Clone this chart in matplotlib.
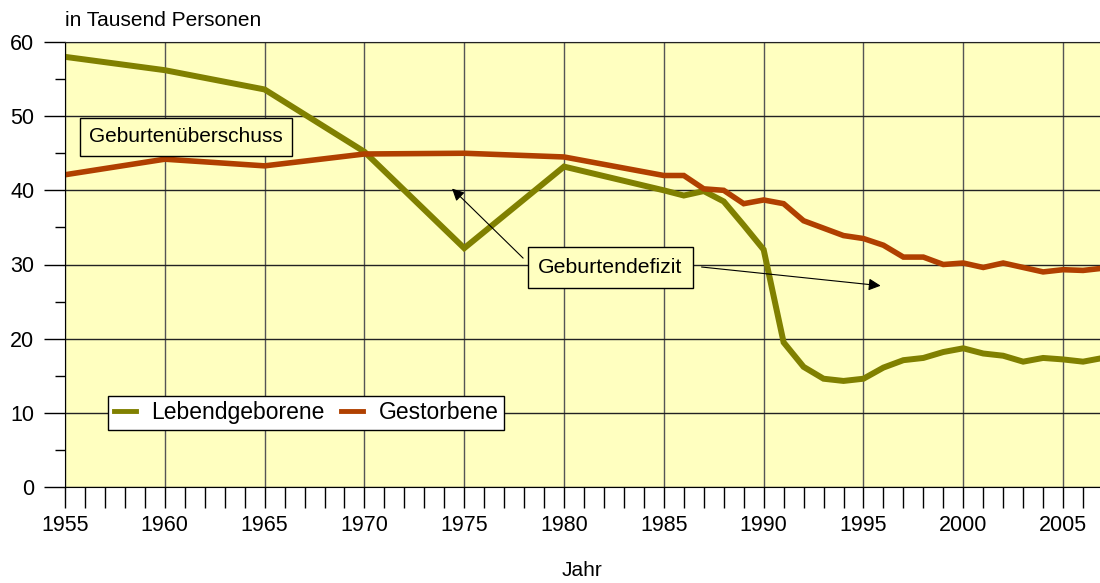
import matplotlib.pyplot as plt

plt.rcParams['font.family'] = ['Liberation Sans', 'DejaVu Sans']

# Data (thousand persons)
jahre = [1955, 1960, 1965, 1970, 1975, 1980, 1985, 1986, 1987, 1988, 1989,
         1990, 1991, 1992, 1993, 1994, 1995, 1996, 1997, 1998, 1999, 2000,
         2001, 2002, 2003, 2004, 2005, 2006, 2007]
lebendgeborene = [58.0, 56.2, 53.6, 45.2, 32.2, 43.2, 40.0, 39.3, 39.9, 38.5, 35.3,
                  32.0, 19.5, 16.2, 14.6, 14.3, 14.6, 16.1, 17.1, 17.4, 18.2, 18.7,
                  18.0, 17.7, 16.9, 17.4, 17.2, 16.9, 17.4]
gestorbene = [42.1, 44.2, 43.3, 44.9, 45.0, 44.5, 42.0, 42.0, 40.2, 40.0, 38.2,
              38.7, 38.2, 35.9, 34.9, 33.9, 33.5, 32.6, 31.0, 31.0, 30.0, 30.2,
              29.6, 30.2, 29.6, 29.0, 29.3, 29.2, 29.5]

fig = plt.figure(figsize=(11, 5.83), dpi=100)
ax = fig.add_axes([65 / 1100, 96 / 583, 1038 / 1100, 445 / 583])
ax.set_facecolor('#ffffc0')

# Grid
ax.set_xlim(1955, 2007)
ax.set_ylim(0, 60)
ax.set_xticks(range(1955, 2008, 5))
ax.set_xticks(range(1955, 2008), minor=True)
ax.set_yticks(range(0, 61, 10))
ax.set_yticks(range(5, 60, 10), minor=True)
ax.grid(True, axis='x', which='major', color='#555555', lw=1.0)
ax.grid(True, axis='y', which='major', color='#222222', lw=1.0)
ax.set_axisbelow(True)

# Lines
ax.plot(jahre, lebendgeborene, color='#808000', lw=4.3, label='Lebendgeborene',
        solid_joinstyle='miter')
ax.plot(jahre, gestorbene, color='#b04000', lw=4.0, label='Gestorbene',
        solid_joinstyle='miter')

# Spines & ticks
ax.spines['right'].set_visible(False)
ax.spines['top'].set_color('#222222')
ax.tick_params(axis='x', which='both', direction='out', length=15, width=1,
               labelsize=15.5, pad=5.5)
ax.tick_params(axis='y', which='major', direction='out', length=15, width=1,
               labelsize=15.5, pad=7)
ax.tick_params(axis='y', which='minor', direction='out', length=7, width=1)

# Labels
fig.text(65 / 1100, 1 - 21 / 583, 'in Tausend Personen', fontsize=15,
         ha='left', va='center')
fig.text(582 / 1100, 1 - 570 / 583, 'Jahr', fontsize=15, ha='center', va='center')

# Annotations
ax.text(1961.05, 47.2, 'Geburtenüberschuss', fontsize=15, ha='center', va='center',
        bbox=dict(boxstyle='square,pad=0.45', fc='#ffffc0', ec='black', lw=1))
ax.text(1982.33, 29.6, 'Geburtendefizit', fontsize=15.3, ha='center', va='center',
        bbox=dict(boxstyle='square,pad=0.5', fc='#ffffc0', ec='black', lw=1),
        zorder=5)
arrow = dict(arrowstyle='-|>', color='black', lw=0.8, mutation_scale=18)
ax.annotate('', xy=(1974.29, 40.5), xytext=(1978.05, 30.6), arrowprops=arrow)
ax.annotate('', xy=(1996.0, 27.1), xytext=(1986.75, 29.7), arrowprops=arrow)

# Legend
leg = ax.legend(loc='center left', bbox_to_anchor=((108 - 65) / 1038, 10 / 60),
                ncol=2, fontsize=16.5, frameon=True, fancybox=False,
                edgecolor='black', facecolor='white', framealpha=1,
                handlelength=0.95, columnspacing=0.7, borderpad=0.25,
                handletextpad=0.7, borderaxespad=0)
leg.get_frame().set_linewidth(1)
for h in leg.get_lines():
    h.set_linewidth(3.5)

fig.savefig('out.png', dpi=100)
